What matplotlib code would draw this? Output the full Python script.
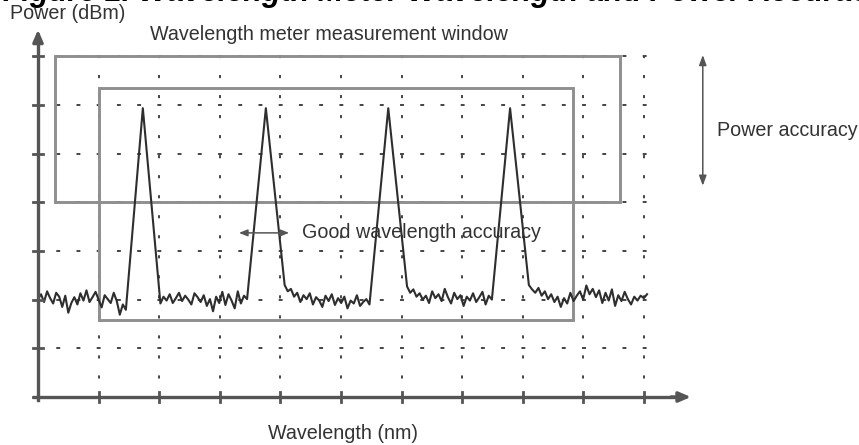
import numpy as np
from matplotlib import pyplot as plt

# grid positions (arbitrary units, one per division)
x_divs = [1, 2, 3, 4, 5, 6, 7, 8, 9, 10]
y_divs = [1, 2, 3, 4, 5, 6, 7]

# spectrum trace: noise floor segments and four peaks
noise_a = [2.01, 2.11, 1.95, 2.17, 2.03, 1.92, 2.14, 2.06, 1.85, 2.08, 1.73, 1.93, 2.05, 1.90, 2.13,
           1.98, 2.19, 1.95, 2.05, 2.16, 2.00, 1.84, 2.09, 2.01, 1.93, 2.14, 1.97, 1.69, 1.90, 1.79]
noise_b = [1.92, 2.06, 1.98, 2.11, 1.93, 2.03, 2.14, 1.97, 2.08, 2.00, 1.90, 2.13, 2.05, 1.95, 2.09,
           1.87, 2.01, 1.76, 2.06, 1.93, 2.16, 1.89, 2.11, 1.98, 1.82, 2.17, 1.92, 2.08, 2.01]
noise_c = [2.30, 2.17, 2.22, 2.06, 2.14, 1.95, 2.09, 2.01, 2.13, 1.90, 2.05, 1.98, 1.85, 2.08,
           1.97, 2.11, 1.89, 2.03, 1.93, 2.06, 1.82, 1.98, 1.92, 2.09, 1.87, 1.95, 2.01, 1.90]
noise_d = [2.27, 2.14, 2.21, 2.06, 2.13, 2.00, 2.08, 1.93, 2.17, 2.03, 2.11, 1.97, 2.22, 2.05,
           1.92, 2.14, 2.01, 2.09, 1.87, 2.06, 1.98, 2.13, 1.95, 2.05, 2.16, 1.90, 2.08, 2.00]
noise_e = [2.30, 2.21, 2.14, 2.24, 2.08, 2.17, 2.01, 2.11, 1.95, 2.06, 1.85, 2.03, 1.92, 2.14, 1.97,
           2.08, 2.17, 2.00, 2.29, 2.11, 2.22, 2.05, 2.19, 1.93, 2.14, 1.98, 2.21, 1.87, 2.09, 1.97,
           2.16, 2.01, 1.90, 2.06, 1.98, 2.08, 2.03, 2.11]
noise_segments = [noise_a, noise_b, noise_c, noise_d, noise_e]
segment_start = [0.00, 2.02, 4.07, 6.09, 8.10]
segment_end = [1.45, 3.45, 5.47, 7.49, 10.05]
peak_center = [1.73, 3.76, 5.78, 7.79]
peak_height = [5.93, 5.93, 5.93, 5.93]

# measurement windows (x0, x1, y0, y1)
outer_box = [0.28, 9.60, 4.00, 7.00]
inner_box = [1.00, 8.83, 1.58, 6.34]

TXT = '#333333'
GRID = '#444444'
AXC = '#555555'

fig = plt.figure(figsize=(8.59, 4.45), dpi=100)
ax = fig.add_axes([0, 0, 1, 1])
ax.set_xlim(-38 / 60.6, (859 - 38) / 60.6)
ax.set_ylim(-48 / 48.7, 397 / 48.7)
ax.axis('off')

# dotted grid
for yv in y_divs:
    ax.plot([0, 10.26], [yv, yv], color=GRID, lw=1.4, ls=(1.0, (2.0, 8.4)), zorder=1)
for xv in x_divs:
    ax.plot([xv, xv], [0, 7.0], color=GRID, lw=1.4, ls=(0.8, (1.6, 8.7)), zorder=1)

# windows
for bx in (outer_box, inner_box):
    x0, x1, y0, y1 = bx
    ax.plot([x0, x1, x1, x0, x0], [y0, y0, y1, y1, y0], color='#8f8f8f', lw=2.1,
            solid_joinstyle='miter', zorder=2)

# trace
tx, ty = [], []
for i, seg in enumerate(noise_segments):
    tx += list(np.linspace(segment_start[i], segment_end[i], len(seg)))
    ty += seg
    if i < len(peak_center):
        tx.append(peak_center[i])
        ty.append(peak_height[i])
ax.plot(tx, ty, color='#2e2e2e', lw=1.5, zorder=3)

# axes with arrows
ax.plot([0, 0], [-0.06, 7.3], color=AXC, lw=2.4, zorder=4)
ax.plot([-0.06, 10.5], [0, 0], color=AXC, lw=2.4, zorder=4)
ax.annotate('', xy=(0, 7.6), xytext=(0, 7.2),
            arrowprops=dict(arrowstyle='-|>,head_length=0.7,head_width=0.3', color=AXC, lw=2.4))
ax.annotate('', xy=(10.82, 0), xytext=(10.4, 0),
            arrowprops=dict(arrowstyle='-|>,head_length=0.7,head_width=0.3', color=AXC, lw=2.4))
for yv in [0] + y_divs:
    ax.plot([-0.09, 0.09], [yv, yv], color=AXC, lw=2.0, zorder=4)
for xv in x_divs:
    ax.plot([xv, xv], [-0.11, 0.11], color=AXC, lw=2.0, zorder=4)

# accuracy arrows
ax.annotate('', xy=(3.27, 3.37), xytext=(4.19, 3.37),
            arrowprops=dict(arrowstyle='<|-|>,head_length=0.5,head_width=0.2', color='#555555', lw=1.1))
ax.annotate('', xy=(10.97, 7.08), xytext=(10.97, 4.28),
            arrowprops=dict(arrowstyle='<|-|>,head_length=0.6,head_width=0.22', color='#555555', lw=1.1))

# texts
fs = 14.2
ax.text(-0.46, 7.88, 'Power (dBm)', fontsize=fs, color=TXT, family='Liberation Sans',
        va='center', ha='left')
ax.text(1.85, 7.45, 'Wavelength meter measurement window', fontsize=fs, color=TXT,
        family='Liberation Sans', va='center', ha='left')
ax.text(4.36, 3.37, 'Good wavelength accuracy', fontsize=fs, color=TXT, family='Liberation Sans',
        va='center', ha='left')
ax.text(11.2, 5.48, 'Power accuracy', fontsize=fs, color=TXT, family='Liberation Sans',
        va='center', ha='left')
ax.text(5.03, -0.74, 'Wavelength (nm)', fontsize=fs, color=TXT, family='Liberation Sans',
        va='center', ha='center')
ax.text(-0.58, 8.14, 'Figure 1. Wavelength Meter Wavelength and Power Accuracy', fontsize=22,
        color='black', family='Liberation Sans', weight='bold', style='italic',
        va='baseline', ha='left')

fig.savefig('out.png', dpi=100)
